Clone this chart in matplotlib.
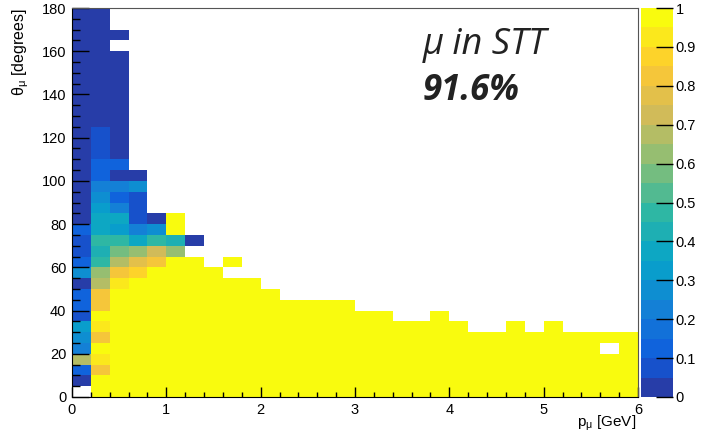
import numpy as np
import matplotlib
matplotlib.use('Agg')
import matplotlib.pyplot as plt
from matplotlib.colors import LinearSegmentedColormap, ListedColormap, BoundaryNorm
from matplotlib.ticker import MultipleLocator, FuncFormatter

plt.rcParams['font.family'] = ['Liberation Sans', 'DejaVu Sans']
plt.rcParams['mathtext.fontset'] = 'custom'
plt.rcParams['mathtext.rm'] = 'Liberation Sans'
plt.rcParams['mathtext.it'] = 'Liberation Sans:italic'

# binning: 30 bins in p (0.2 GeV), 36 bins in theta (5 degrees)
p_edges = np.linspace(0, 6, 31)
theta_edges = np.linspace(0, 180, 37)

# efficiency per p bin, from theta = 0 upwards (None = empty bin)
eff_p00 = [None, 0.02, 0.12, 0.68, 0.2, 0.3, 0.33, 0.07, 0.12, 0.12, 0.02, 0.27,
           0.12, 0.07, 0.07, 0.1] + [0.02] * 20
eff_p02 = [1.0, 1.0, 0.83, 0.92, 1.0, 0.83, 0.92, 1.0, 0.85, 0.83, 0.68, 0.62,
           0.47, 0.42, 0.45, 0.38, 0.37, 0.32, 0.25, 0.22, 0.12, 0.12, 0.07, 0.07,
           0.07] + [0.02] * 11
eff_p04 = [1.0] * 10 + [0.9, 0.83, 0.68, 0.57, 0.45, 0.35, 0.37, 0.2, 0.12, 0.2,
                        0.02, 0.12] + [0.02] * 10 + [None, 0.02]
eff_p06 = [1.0] * 11 + [0.88, 0.78, 0.62, 0.37, 0.22, 0.07, 0.07, 0.07, 0.3, 0.02]
eff_p08 = [1.0] * 12 + [0.83, 0.72, 0.45, 0.28, 0.02]
eff_p10 = [1.0] * 13 + [0.62, 0.42, 1.0, 1.0]
eff_p12 = [1.0] * 13 + [None, 0.02]
eff_p14 = [1.0] * 12
eff_p16 = [1.0] * 11 + [None, 1.0]
low_p_columns = [eff_p00, eff_p02, eff_p04, eff_p06, eff_p08, eff_p10, eff_p12, eff_p14, eff_p16]

# remaining p bins (1.8 - 6 GeV): fully efficient up to this many theta bins
n_filled = [11, 10, 9, 9, 9, 9, 8, 8, 7, 7, 8, 7, 6, 6, 7, 6, 7, 6, 6, 6, 6]
empty_bins = [(28, 4)]  # (p bin, theta bin)

Z = np.full((len(theta_edges) - 1, len(p_edges) - 1), np.nan)
for i, col in enumerate(low_p_columns):
    for j, v in enumerate(col):
        if v is not None:
            Z[j, i] = v
for k, n in enumerate(n_filled):
    Z[:n, len(low_p_columns) + k] = 1.0
for i, j in empty_bins:
    Z[j, i] = np.nan
Z = np.ma.masked_invalid(Z)

# ROOT kBird palette, 20 contour levels
stops = [0.0, 0.125, 0.25, 0.375, 0.5, 0.625, 0.75, 0.875, 1.0]
red = [0.2082, 0.0592, 0.0780, 0.0232, 0.1802, 0.5301, 0.8186, 0.9956, 0.9764]
green = [0.1664, 0.3599, 0.5041, 0.6419, 0.7178, 0.7492, 0.7328, 0.7862, 0.9832]
blue = [0.5293, 0.8684, 0.8385, 0.7914, 0.6425, 0.4662, 0.3499, 0.1968, 0.0539]
bird = LinearSegmentedColormap.from_list(
    'bird', list(zip(stops, zip(red, green, blue))), N=255)
band_colors = [bird(int((k + 0.99) * 255 / 20) / 254) for k in range(20)]
cmap = ListedColormap(band_colors)
cmap.set_bad('white')
levels = np.linspace(0, 1, 21)
norm = BoundaryNorm(levels, 20, clip=True)

fig = plt.figure(figsize=(7.01, 4.32), dpi=100)
ax = fig.add_axes([72 / 701, 35 / 432, 566 / 701, 389 / 432])
cax = fig.add_axes([641 / 701, 35 / 432, 32 / 701, 389 / 432])

mesh = ax.pcolormesh(p_edges, theta_edges, Z, cmap=cmap, norm=norm)
ax.set_xlim(0, 6)
ax.set_ylim(0, 180)

ax.xaxis.set_major_locator(MultipleLocator(1))
ax.xaxis.set_minor_locator(MultipleLocator(0.2))
ax.yaxis.set_major_locator(MultipleLocator(20))
ax.yaxis.set_minor_locator(MultipleLocator(5))
ax.tick_params(axis='x', which='major', direction='in', length=7, width=1, labelsize=10.5, pad=4)
ax.tick_params(axis='x', which='minor', direction='in', length=3.5, width=1)
ax.tick_params(axis='y', which='major', direction='in', length=12, width=1, labelsize=10.5, pad=4)
ax.tick_params(axis='y', which='minor', direction='in', length=6, width=1)
for side in ['top', 'right']:
    ax.spines[side].set_color('#555555')
for side in ['left', 'bottom']:
    ax.spines[side].set_color('black')

cb = fig.colorbar(mesh, cax=cax, ticks=np.arange(0, 1.01, 0.1))
cb.outline.set_visible(False)
cax.tick_params(direction='in', length=12, width=1, labelsize=10.5, pad=2, colors='black')
cax.yaxis.set_major_formatter(FuncFormatter(lambda v, pos: '%g' % round(v, 2)))
cax.minorticks_off()

fig.text(636 / 701, 1 - 427 / 432, r'$\mathrm{p_{\mu}}$ [GeV]', ha='right', va='baseline', fontsize=11)
fig.text(21 / 701, 1 - 8 / 432, r'$\mathrm{\theta_{\mu}}$ [degrees]', ha='center', va='top',
         rotation=90, fontsize=11.5)

fig.text(423 / 701, 1 - 54 / 432, 'μ in STT', family='Open Sans', style='italic',
         fontsize=26, color='#222222', ha='left', va='baseline')
fig.text(423 / 701, 1 - 100 / 432, '91.6%', family='Open Sans', style='italic',
         weight='bold', fontsize=25, color='#222222', ha='left', va='baseline')

fig.savefig('out.png', dpi=100)
